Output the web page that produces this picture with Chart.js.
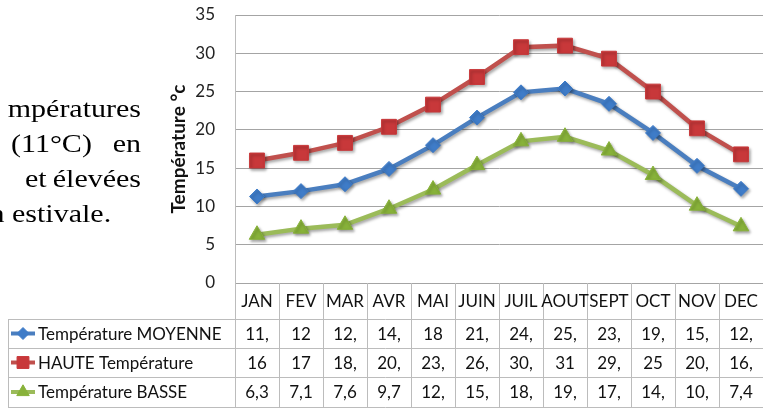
<!DOCTYPE html>
<html>
<head>
<meta charset="utf-8">
<script src="https://cdn.jsdelivr.net/npm/chart.js@4.4.1/dist/chart.umd.min.js"></script>
<style>
    html, body { margin: 0; padding: 0; background: #fff; }
    #chart { display: block; }
</style>
</head>
<body>
<canvas id="chart" width="765" height="412"></canvas>
<script>
// monthly temperatures (°C)
const months = ['JAN', 'FEV', 'MAR', 'AVR', 'MAI', 'JUIN', 'JUIL', 'AOUT', 'SEPT', 'OCT', 'NOV', 'DEC'];
const moyenne = [11.3, 12, 12.9, 14.9, 18, 21.6, 24.9, 25.4, 23.4, 19.6, 15.3, 12.3];
const haute = [16, 17, 18.3, 20.4, 23.3, 26.9, 30.8, 31, 29.3, 25, 20.2, 16.8];
const basse = [6.3, 7.1, 7.6, 9.7, 12.2, 15.4, 18.5, 19.1, 17.3, 14.1, 10.1, 7.4];
const yTicks = [0, 5, 10, 15, 20, 25, 30, 35];

const seriesNames = ['Température MOYENNE', 'HAUTE Température', 'Température BASSE'];

// text fragment sitting left of the chart: words and where each line starts / ends
const sideText = [
    ['mpératures'],
    ['(11°C)', 'en'],
    ['et', 'élevées'],
    ['n', 'estivale.']
];
const sideStart = [null, 11, 25, 12];
const sideEnd = 141;

const uiFont = 'Lato, "Open Sans", sans-serif';
const gridGray = '#a4a4a4';
const cellGray = '#bcbcbc';

// table cells show the first three characters of the french-formatted value
function cellText(v) {
    return String(v).replace('.', ',').slice(0, 3);
}

let dataset = function (label, data, color, fill, style, radius) {
    return {
        label: label,
        data: data,
        borderColor: color,
        borderWidth: 4.5,
        pointStyle: style,
        pointRadius: radius,
        pointBackgroundColor: fill,
        pointBorderColor: fill,
        pointBorderWidth: 1,
        tension: 0
    };
};

const sets = [
    dataset(seriesNames[0], moyenne, '#4a7ebf', '#3f7cc8', 'rectRot', 7.5),
    dataset(seriesNames[1], haute, '#c0504d', '#c8383a', 'rect', 10.5),
    dataset(seriesNames[2], basse, '#9bbb59', '#88b23a', 'triangle', 9)
];

// soft drop shadow under lines and markers
const shadowPlugin = {
    id: 'shadow',
    beforeDatasetsDraw(chart) {
        let ctx = chart.ctx;
        ctx.save();
        ctx.shadowColor = 'rgba(0,0,0,0.35)';
        ctx.shadowBlur = 3;
        ctx.shadowOffsetX = 1.5;
        ctx.shadowOffsetY = 2;
    },
    afterDatasetsDraw(chart) {
        chart.ctx.restore();
    }
};

// paragraph fragment: serif text, a little wide, justified lines
function drawSideText(ctx) {
    let sx = 1.2;
    ctx.save();
    ctx.setTransform(sx, 0, 0, 1, 0, 0);
    ctx.fillStyle = '#000';
    ctx.font = '25px "Liberation Serif", "Times New Roman", serif';
    ctx.textBaseline = 'alphabetic';
    ctx.textAlign = 'left';
    let right = sideEnd / sx;
    sideText.forEach((words, k) => {
        let y = 117 + k * 35;
        if (k === 0) {
            let w = ctx.measureText(words[0]).width;
            ctx.fillText(words[0], right - w, y);
        } else if (k === sideText.length - 1) {
            // last line is not justified, its first word is cut by the left edge
            let lead = ctx.measureText(words[0] + ' ').width;
            let x0 = sideStart[k] / sx - lead;
            ctx.fillText(words[0], x0, y);
            ctx.fillText(words[1], x0 + lead, y);
        } else {
            let w1 = ctx.measureText(words[1]).width;
            ctx.fillText(words[0], sideStart[k] / sx, y);
            ctx.fillText(words[1], right - w1, y);
        }
    });
    ctx.restore();
}

// data table below the plot, columns follow the x scale
const tablePlugin = {
    id: 'dataTable',
    afterDraw(chart) {
        let ctx = chart.ctx;
        let xs = chart.scales.x;
        let area = chart.chartArea;
        let band = (area.right - area.left) / months.length;
        let rowTops = [area.bottom, 319, 348, 377, 407];
        let tableLeft = 8;

        ctx.save();
        ctx.strokeStyle = cellGray;
        ctx.lineWidth = 1;

        // horizontal lines
        for (let r = 1; r < rowTops.length; r++) {
            let y = Math.round(rowTops[r]) + 0.5;
            ctx.beginPath();
            ctx.moveTo(tableLeft, y);
            ctx.lineTo(area.right, y);
            ctx.stroke();
        }
        // vertical lines: legend column and month columns
        ctx.beginPath();
        ctx.moveTo(tableLeft + 0.5, rowTops[1]);
        ctx.lineTo(tableLeft + 0.5, rowTops[4]);
        ctx.stroke();
        for (let i = 0; i < months.length; i++) {
            let x = Math.round(area.left + band * i) + 0.5;
            ctx.beginPath();
            ctx.moveTo(x, rowTops[0]);
            ctx.lineTo(x, rowTops[4]);
            ctx.stroke();
        }

        // header row
        ctx.fillStyle = '#111';
        ctx.textAlign = 'center';
        ctx.textBaseline = 'middle';
        ctx.font = '17px ' + uiFont;
        months.forEach((m, i) => {
            ctx.fillText(m, xs.getPixelForValue(i), (rowTops[0] + rowTops[1]) / 2 + 1);
        });

        // value rows with legend keys
        sets.forEach((ds, r) => {
            let yMid = (rowTops[r + 1] + rowTops[r + 2]) / 2 + 1;
            ds.data.forEach((v, i) => {
                ctx.textAlign = 'center';
                ctx.fillText(cellText(v), xs.getPixelForValue(i), yMid);
            });

            ctx.save();
            ctx.strokeStyle = ds.borderColor;
            ctx.lineWidth = 4;
            ctx.beginPath();
            ctx.moveTo(11, yMid - 1);
            ctx.lineTo(35, yMid - 1);
            ctx.stroke();
            ctx.fillStyle = ds.pointBackgroundColor;
            ctx.strokeStyle = ds.pointBackgroundColor;
            ctx.lineWidth = 1;
            Chart.helpers.drawPoint(ctx, {
                pointStyle: ds.pointStyle,
                radius: ds.pointRadius * 0.8,
                rotation: 0,
                borderWidth: 1
            }, 23, yMid - 1);
            ctx.restore();

            ctx.textAlign = 'left';
            ctx.fillText(ds.label, 38, yMid);
        });
        ctx.restore();

        drawSideText(ctx);
    }
};

let ctx = document.getElementById('chart').getContext('2d');
let chart = new Chart(ctx, {
    type: 'line',
    data: {
        labels: months,
        datasets: sets
    },
    options: {
        responsive: false,
        animation: false,
        layout: {
            autoPadding: false,
            padding: { left: 163, top: 15, right: 2, bottom: 129 }
        },
        plugins: {
            legend: { display: false },
            tooltip: { enabled: false }
        },
        scales: {
            x: {
                display: false,
                offset: true
            },
            y: {
                min: yTicks[0],
                max: yTicks[yTicks.length - 1],
                afterBuildTicks: (scale) => {
                    scale.ticks = yTicks.map(v => ({ value: v }));
                },
                afterFit: (scale) => {
                    // fixed axis width; tick padding must not push the plot down
                    scale.width = 72;
                    scale.paddingTop = 0;
                    scale.paddingBottom = 0;
                },
                ticks: {
                    padding: 20,
                    color: '#222',
                    font: { family: uiFont, size: 17 }
                },
                grid: {
                    color: gridGray,
                    drawTicks: false
                },
                border: { color: cellGray },
                title: {
                    display: true,
                    text: 'Température °c',
                    color: '#111',
                    font: { family: uiFont, size: 19, weight: 'bold' }
                }
            }
        }
    },
    plugins: [shadowPlugin, tablePlugin]
});
</script>
</body>
</html>
